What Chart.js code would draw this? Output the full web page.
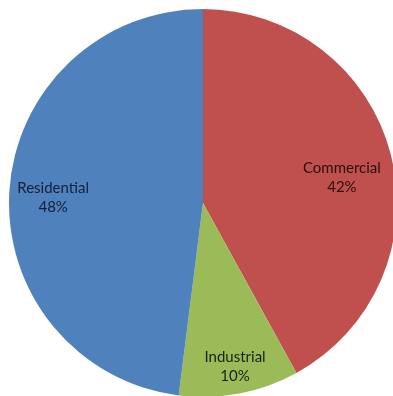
<!DOCTYPE html>
<html>
<head>
<meta charset="utf-8">
<script src="https://cdn.jsdelivr.net/npm/chart.js@4/dist/chart.umd.min.js"></script>
<style>
html,body{margin:0;padding:0;background:#fff;overflow:hidden;width:393px;height:396px;}
#wrap{position:absolute;left:9px;top:9px;width:388px;height:388px;}
</style>
</head>
<body>
<div id="wrap"><canvas id="c"></canvas></div>
<script>
const categories = ["Commercial", "Industrial", "Residential"];
const values = [42, 10, 48];
const valueLabels = ["42%", "10%", "48%"];
const sliceColors = ["#C0504D", "#9BBB59", "#4F81BD"];
const labelColors = ["#2b0c0c", "#18220c", "#14203a"];
const labelRadius = [0.728, 0.859, 0.773];
const labelAngleShift = [4, -0.3, -1.5];

const labelPlugin = {
  id: 'sliceLabels',
  afterDatasetsDraw(chart) {
    const ctx = chart.ctx;
    const meta = chart.getDatasetMeta(0);
    ctx.save();
    ctx.font = '15px Lato, "Open Sans", sans-serif';
    ctx.textAlign = 'center';
    ctx.textBaseline = 'middle';
    meta.data.forEach((arc, i) => {
      const p = arc.getProps(['x','y','startAngle','endAngle','outerRadius'], true);
      const mid = (p.startAngle + p.endAngle) / 2 + labelAngleShift[i] * Math.PI / 180;
      const r = p.outerRadius * labelRadius[i];
      const x = p.x + Math.cos(mid) * r;
      const y = p.y + Math.sin(mid) * r;
      ctx.fillStyle = labelColors[i];
      ctx.fillText(categories[i], x, y - 9.5);
      ctx.fillText(valueLabels[i], x, y + 9.5);
    });
    ctx.restore();
  }
};

new Chart(document.getElementById('c'), {
  type: 'pie',
  data: {
    labels: categories,
    datasets: [{
      data: values,
      backgroundColor: sliceColors,
      borderWidth: 0
    }]
  },
  options: {
    responsive: true,
    maintainAspectRatio: false,
    animation: false,
    layout: { padding: 0 },
    plugins: { legend: { display: false }, tooltip: { enabled: false } }
  },
  plugins: [labelPlugin]
});
</script>
</body>
</html>
